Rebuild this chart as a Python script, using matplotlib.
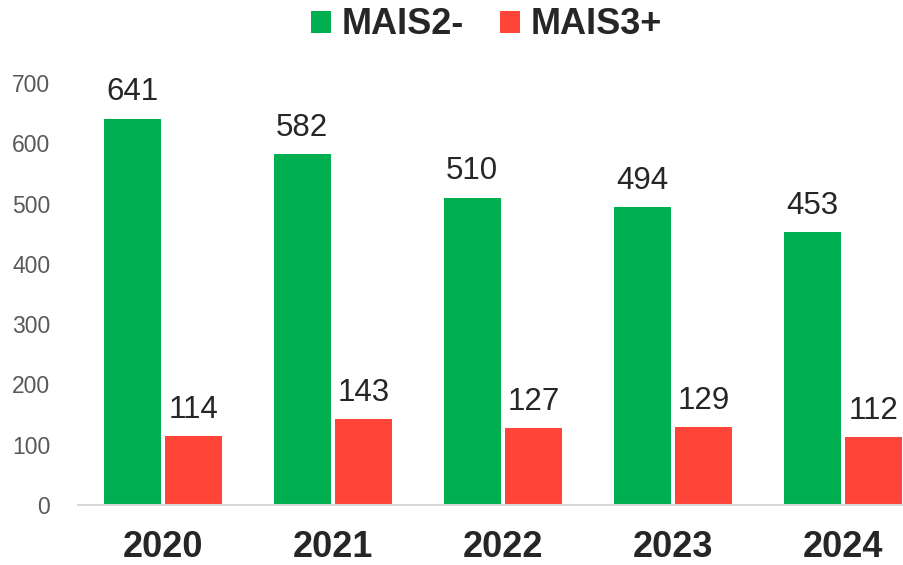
import numpy as np
import matplotlib.pyplot as plt

plt.rcParams['font.family'] = ['Liberation Sans', 'DejaVu Sans']

years = ['2020', '2021', '2022', '2023', '2024']
mais2 = [641, 582, 510, 494, 453]
mais3 = [114, 143, 127, 129, 112]

green = '#00B050'
red = '#FF4538'

fig = plt.figure(figsize=(9.04, 5.65), dpi=100)
# axes placed in pixel terms: left 78px, bottom at y=505px, top (700) at y=83px
ax = fig.add_axes([78 / 904, 60 / 565, 826 / 904, 422 / 565])

x = np.arange(len(years))
w = 0.335
off = 0.182
b1 = ax.bar(x - off, mais2, w, color=green, label='MAIS2-')
b2 = ax.bar(x + off, mais3, w, color=red, label='MAIS3+')

for bars in (b1, b2):
    for r in bars:
        ax.annotate(str(int(r.get_height())), (r.get_x() + r.get_width() / 2, r.get_height()),
                    xytext=(0, 8), textcoords='offset points', ha='center', va='bottom',
                    fontsize=22.5, color='#262626', annotation_clip=False)

ax.set_xlim(-0.5, (904 - 163) / 170)
ax.set_ylim(0, 700)
ax.set_yticks(range(0, 701, 100))
ax.set_xticks(x)
ax.set_xticklabels(years, fontsize=26, fontweight='bold', color='#262626')
ax.tick_params(axis='x', length=0, pad=18)
ax.tick_params(axis='y', length=0, pad=20, labelsize=16.5, labelcolor='#595959')

for s in ('top', 'right', 'left'):
    ax.spines[s].set_visible(False)
ax.spines['bottom'].set_color('#D9D9D9')
ax.spines['bottom'].set_linewidth(1.5)

leg = ax.legend(loc='center', bbox_to_anchor=(0.495, (565 - 25 - 60) / 422), ncol=2,
                frameon=False, prop={'size': 26, 'weight': 'bold'},
                handlelength=0.55, handleheight=0.55, handletextpad=0.3, columnspacing=1.0)
for t in leg.get_texts():
    t.set_color('#262626')

fig.savefig('out.png', dpi=100)
